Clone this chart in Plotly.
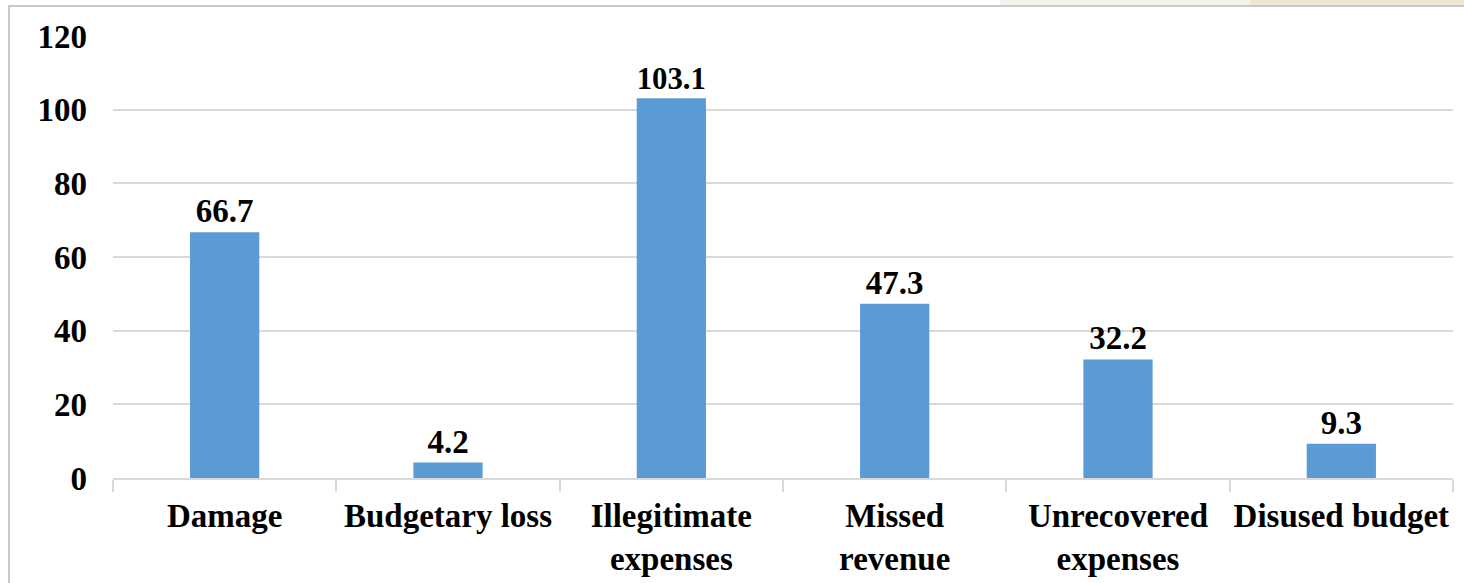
import plotly.graph_objects as go

categories = ["Damage", "Budgetary loss", "Illegitimate<br>expenses", "Missed<br>revenue",
              "Unrecovered<br>expenses", "Disused budget"]
values = [66.7, 4.2, 103.1, 47.3, 32.2, 9.3]
y_ticks = [0, 20, 40, 60, 80, 100, 120]

font_family = "Liberation Serif, Times New Roman, serif"
FS = 33

fig = go.Figure(go.Bar(
    x=categories, y=values,
    marker=dict(color="#5B9BD5", line=dict(width=0)),
    text=[f"{v:.1f}" for v in values],
    textposition="outside",
    textfont=dict(family=font_family, size=FS, color="black", weight="bold"),
    cliponaxis=False,
    width=0.31,
))

PW, PH = 1340, 442
fig.update_layout(
    width=1464, height=583,
    margin=dict(l=113, r=11, t=36, b=105, autoexpand=False),
    paper_bgcolor="white", plot_bgcolor="white",
    showlegend=False,
    font=dict(family=font_family, size=FS, color="black", weight="bold"),
    shapes=[
        dict(type="rect", xref="paper", yref="paper",
             x0=(1000 - 113) / PW, x1=(1464 - 113) / PW, y0=1 + 30 / PH, y1=1 + 36 / PH,
             fillcolor="#f4f2e9", line=dict(width=0), layer="below"),
        dict(type="rect", xref="paper", yref="paper",
             x0=(1250 - 113) / PW, x1=(1464 - 113) / PW, y0=1 + 30 / PH, y1=1 + 36 / PH,
             fillcolor="#ebe8d6", line=dict(width=0), layer="below"),
        dict(type="rect", xref="paper", yref="paper",
             x0=-104 / PW, x1=1.03, y0=-0.3, y1=1 + 30 / PH,
             line=dict(color="#c8c8c8", width=2), layer="below"),
    ],
)
fig.update_xaxes(
    showgrid=False, showline=True, linecolor="#d9d9d9", linewidth=2,
    ticks="outside", tickson="boundaries", ticklen=12, tickcolor="#d9d9d9", tickwidth=2,
    tickfont=dict(family=font_family, size=FS, color="black", weight="bold"),
    ticklabelstandoff=7, tickangle=0, automargin=False,
)
fig.update_yaxes(
    range=[0, 120], tickvals=y_ticks, showgrid=True, gridcolor="#d9d9d9", gridwidth=2,
    zeroline=False, showline=False, ticks="",
    tickfont=dict(family=font_family, size=FS, color="black", weight="bold"),
    ticklabelstandoff=25, automargin=False,
)

fig.write_html("out.html", config={"displayModeBar": False, "responsive": False},
               post_script="document.body.style.margin='0';")
